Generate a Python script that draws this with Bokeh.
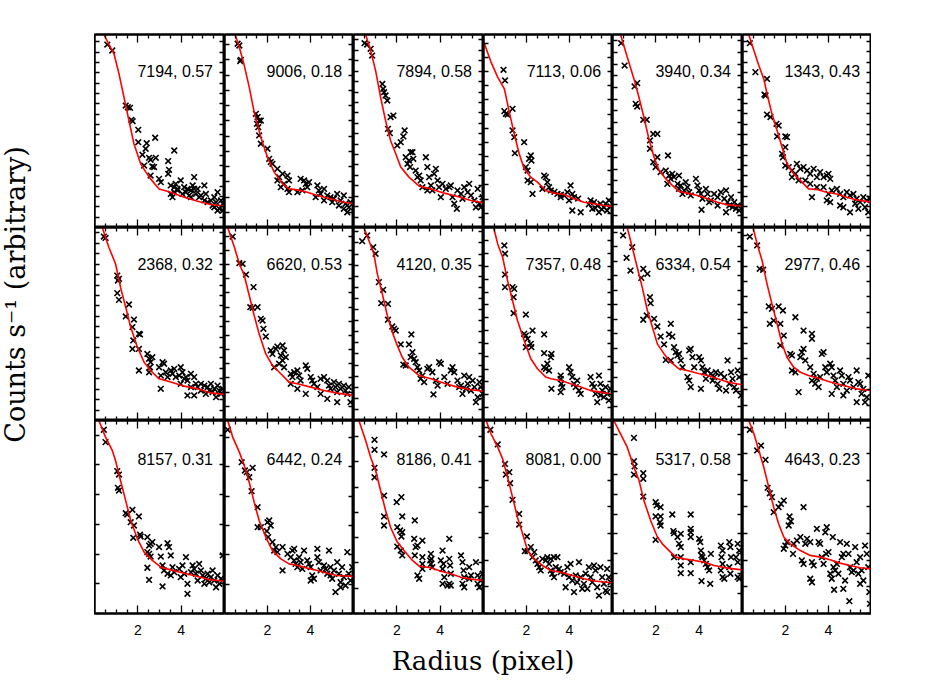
from bokeh.plotting import figure
from bokeh.layouts import row, column
from bokeh.models import Range1d, FixedTicker, LinearAxis, Label
from bokeh.embed import file_html
from bokeh.resources import INLINE

# ---------------- data (radius in pixel, counts in arbitrary units 0-100 of panel) ----------------
panel_ids = ["7194, 0.57", "9006, 0.18", "7894, 0.58", "7113, 0.06", "3940, 0.34", "1343, 0.43",
             "2368, 0.32", "6620, 0.53", "4120, 0.35", "7357, 0.48", "6334, 0.54", "2977, 0.46",
             "8157, 0.31", "6442, 0.24", "8186, 0.41", "8081, 0.00", "5317, 0.58", "4643, 0.23"]

pts_7194 = [(0.59,94.8),(0.82,91.7),(1.44,63.2),(1.54,62.3),(1.64,62.0),(1.70,55.8),(1.76,55.1),(2.02,50.6),(2.02,44.2),(2.41,43.7),(2.36,40.8),(2.80,46.5),(2.21,37.7),(2.59,35.1),(2.52,36.1),(2.83,36.1),(2.29,32.1),(2.75,31.3),(2.67,31.6),(2.59,26.9),(2.98,25.2),(3.06,23.5),(3.40,34.4),(3.44,29.9),(3.40,27.8),(3.68,39.9),(3.52,21.8),(3.68,20.9),(3.75,22.6),(3.68,18.3),(3.60,15.7),(3.83,19.2),(3.98,24.4),(4.14,20.9),(4.29,20.0),(4.22,18.3),(4.45,19.2),(4.60,26.1),(4.53,21.8),(4.76,20.0),(4.68,17.4),(5.07,21.8),(5.14,17.4),(4.91,16.6),(5.37,14.0),(5.53,15.7),(5.68,18.3),(5.61,13.1),(5.84,14.0),(5.76,9.7),(5.92,12.3),(3.83,20.0),(4.06,17.4),(4.37,16.6),(4.83,15.7),(5.22,13.1),(5.45,11.4),(5.68,8.8),(3.52,17.4),(4.45,15.7),(5.07,14.0),(5.53,10.5),(5.92,8.8),(4.60,20.0)]
fit_7194 = [(0.43,100),(0.90,90.0),(1.13,79.6),(1.36,67.5),(1.59,55.4),(1.82,43.4),(2.13,33.0),(2.52,26.1),(2.98,20.0),(3.52,18.3),(4.14,15.7),(4.76,13.6),(5.37,11.9),(6.0,11.1)]

pts_9006 = [(0.61,95.2),(0.69,94.3),(0.76,86.9),(0.73,86.2),(1.46,58.9),(1.54,57.2),(1.61,55.4),(1.51,53.7),(1.69,55.4),(1.57,52.0),(1.61,47.7),(1.69,43.4),(2.00,40.8),(2.08,35.6),(2.15,33.9),(2.23,33.0),(2.46,30.4),(2.54,26.1),(2.70,27.8),(2.93,26.9),(3.00,24.4),(2.77,22.6),(2.62,20.9),(2.93,20.0),(3.00,18.3),(2.46,24.4),(3.54,25.2),(3.70,24.4),(3.78,22.6),(3.85,20.9),(3.62,19.2),(3.39,18.3),(3.93,23.5),(4.32,21.8),(4.39,19.2),(4.47,17.4),(4.63,20.0),(4.78,16.6),(4.93,15.7),(5.09,14.9),(5.24,17.4),(5.40,14.0),(5.55,16.6),(5.63,12.3),(5.71,7.9),(5.79,10.5),(5.86,13.1),(4.24,15.7),(4.63,14.0),(5.01,13.1),(5.32,11.4),(5.55,9.7)]
fit_9006 = [(0.49,100),(0.69,93.4),(0.92,83.9),(1.15,72.7),(1.38,59.8),(1.69,46.8),(2.00,36.4),(2.31,28.7),(2.70,22.6),(3.00,20.0),(3.39,19.5),(3.85,18.3),(4.32,16.6),(4.93,14.9),(5.55,13.1),(6.0,12.4)]

pts_7894 = [(0.51,95.5),(0.63,94.8),(0.79,92.6),(0.86,89.1),(1.33,74.4),(1.41,70.1),(1.48,68.4),(1.56,65.8),(1.37,71.8),(1.71,57.2),(1.84,58.0),(1.59,51.1),(1.68,48.9),(2.02,42.5),(2.18,44.2),(2.30,47.2),(2.36,50.3),(2.41,36.4),(2.56,34.7),(2.64,39.0),(2.72,39.0),(2.49,33.0),(2.61,31.3),(2.76,35.6),(2.87,29.5),(3.03,26.9),(3.10,24.4),(2.95,26.1),(3.34,36.4),(3.41,31.3),(3.49,26.1),(3.57,21.8),(3.64,19.2),(3.72,27.8),(3.80,30.4),(3.88,24.4),(3.95,20.9),(4.03,15.7),(4.11,22.6),(4.26,20.0),(4.42,20.9),(4.49,21.8),(4.57,15.7),(4.65,12.3),(4.77,9.7),(4.80,19.2),(4.96,17.4),(5.11,20.9),(5.27,18.3),(5.34,22.6),(5.42,16.6),(5.58,14.0),(5.73,20.0),(5.81,12.3),(5.88,10.5),(5.96,15.7),(5.65,10.5),(5.03,14.9),(3.18,20.9),(3.41,19.2)]
fit_7894 = [(0.56,100),(0.79,91.7),(1.02,81.3),(1.25,67.5),(1.48,55.4),(1.71,45.1),(1.95,38.2),(2.18,31.3),(2.56,26.1),(3.03,21.4),(3.57,20.0),(4.19,17.8),(4.80,16.1),(5.42,14.0),(6.0,12.8)]

pts_7113 = [(0.93,81.7),(1.00,76.2),(0.97,60.3),(1.04,58.9),(1.12,58.5),(1.35,61.5),(1.35,50.3),(1.43,46.8),(1.46,38.5),(1.89,44.2),(1.97,31.3),(2.05,29.5),(2.12,35.6),(2.20,37.3),(2.23,34.7),(2.05,24.4),(2.28,17.4),(2.20,23.5),(2.82,26.9),(2.90,26.1),(2.97,23.5),(3.05,20.9),(3.13,19.2),(2.74,20.0),(3.44,17.4),(3.59,15.7),(3.75,16.6),(3.90,18.3),(4.05,21.8),(4.13,17.4),(4.21,15.7),(4.13,8.8),(4.52,7.9),(3.98,14.0),(4.98,14.0),(5.14,13.1),(5.29,11.4),(5.44,12.3),(5.60,10.5),(5.75,8.8),(5.83,14.0),(5.37,7.9),(5.68,12.3),(5.06,9.7),(4.90,12.0),(5.20,10.0),(5.50,9.5),(5.90,11.0),(4.40,15.0),(3.30,18.5),(3.60,17.0)]
fit_7113 = [(0.0,96.5),(0.35,85.7),(0.66,77.9),(0.97,71.8),(1.20,59.8),(1.43,48.5),(1.66,38.2),(1.89,30.4),(2.20,26.1),(2.51,23.5),(2.90,19.2),(3.28,17.8),(3.75,17.1),(4.21,14.9),(4.67,13.1),(5.14,12.3),(5.60,11.4),(6.0,10.9)]

pts_3940 = [(0.40,95.5),(0.56,83.9),(1.02,73.1),(1.14,74.8),(1.07,64.1),(1.14,62.7),(1.42,55.8),(1.58,55.8),(1.73,45.1),(1.73,40.8),(1.88,48.5),(2.07,48.5),(1.88,33.9),(1.99,31.3),(2.07,36.4),(2.56,37.3),(2.22,28.7),(2.46,29.5),(2.61,26.9),(2.69,25.2),(2.76,27.8),(2.84,26.1),(2.53,22.6),(3.07,26.9),(3.00,22.6),(3.07,20.0),(3.15,21.8),(3.23,17.4),(3.31,19.2),(3.38,23.5),(3.46,20.9),(3.54,18.3),(3.85,25.2),(3.92,21.8),(4.00,19.2),(4.08,17.4),(4.15,14.9),(4.11,9.2),(4.31,20.0),(4.39,17.4),(4.46,13.1),(4.69,17.4),(4.85,15.7),(5.00,18.3),(5.16,14.9),(5.24,19.2),(5.31,13.1),(5.39,11.4),(5.47,15.7),(5.54,10.5),(5.62,13.1),(5.70,9.7),(5.78,11.4),(5.85,8.8),(3.61,16.6),(4.54,14.0),(4.85,11.4),(5.24,7.9)]
fit_3940 = [(0.37,100),(0.68,88.3),(0.99,77.0),(1.22,67.5),(1.45,57.1),(1.68,45.9),(1.92,36.4),(2.15,29.5),(2.46,25.2),(2.76,21.8),(3.07,18.7),(3.46,17.8),(3.92,16.6),(4.39,14.9),(4.85,13.1),(5.31,11.7),(6.0,11.1)]

pts_1343 = [(0.34,95.5),(0.60,80.5),(1.14,77.0),(1.02,68.9),(1.07,68.4),(1.14,58.5),(1.30,57.2),(1.58,53.7),(1.68,52.8),(1.61,47.2),(1.99,47.2),(2.07,46.8),(1.99,41.6),(1.84,38.2),(1.88,36.4),(1.99,32.1),(2.15,31.3),(2.30,29.5),(2.46,27.8),(2.53,33.0),(2.69,30.4),(2.84,31.3),(3.00,29.5),(3.15,27.8),(3.31,30.4),(3.46,26.1),(3.61,28.7),(3.77,26.1),(3.92,26.9),(4.00,27.8),(4.08,25.2),(2.30,26.1),(2.61,24.4),(2.92,24.4),(3.15,22.6),(3.23,15.7),(3.46,20.9),(3.77,20.9),(4.00,17.4),(4.15,19.2),(4.39,20.0),(4.54,17.4),(4.69,15.7),(4.85,18.3),(5.00,16.6),(5.16,17.4),(5.31,14.9),(5.47,13.1),(5.62,15.7),(5.78,14.0),(5.93,14.9),(3.92,14.0),(4.08,13.1),(4.54,11.4),(4.69,10.5),(5.00,7.9),(5.24,12.3),(5.39,9.7),(5.70,10.5),(5.85,7.9)]
fit_1343 = [(0.29,100),(0.53,91.7),(0.76,83.9),(0.99,77.0),(1.14,69.3),(1.37,58.9),(1.61,50.3),(1.84,41.6),(2.07,33.0),(2.38,27.8),(2.69,24.4),(3.07,20.0),(3.46,19.7),(3.92,18.3),(4.39,17.4),(4.85,15.7),(5.31,14.3),(6.0,13.1)]

pts_2368 = [(0.43,95.3),(0.51,94.6),(1.05,75.1),(1.13,73.4),(1.08,72.5),(1.05,66.0),(1.13,62.5),(1.44,53.9),(1.59,60.1),(1.75,48.4),(1.82,52.3),(1.79,41.5),(1.75,37.1),(2.05,44.9),(2.10,44.6),(2.05,37.1),(2.05,25.9),(2.44,34.5),(2.52,32.0),(2.59,30.2),(2.56,27.6),(2.67,32.8),(2.52,25.0),(2.98,27.6),(3.06,23.3),(3.14,30.2),(3.21,29.4),(3.29,25.0),(3.37,22.5),(3.06,16.4),(3.52,25.9),(3.60,24.2),(3.68,26.8),(3.75,22.5),(3.91,23.3),(3.98,27.6),(4.06,25.0),(4.14,21.6),(3.98,19.0),(4.22,22.5),(4.29,20.7),(4.45,24.2),(4.60,22.5),(4.68,19.0),(4.76,17.3),(4.45,17.3),(4.29,13.0),(4.60,13.0),(4.91,19.0),(5.07,18.1),(5.22,17.3),(5.30,15.5),(5.37,19.0),(5.45,14.7),(5.53,16.4),(5.61,12.1),(5.68,18.1),(5.76,15.5),(5.84,13.8),(5.92,16.4),(5.14,13.8),(4.91,15.5)]
fit_2368 = [(0.36,100),(0.66,89.8),(0.97,81.2),(1.20,69.1),(1.44,58.7),(1.67,48.4),(1.98,38.0),(2.29,30.2),(2.59,25.9),(2.98,21.6),(3.52,19.9),(4.14,17.8),(4.76,16.4),(5.37,14.3),(6.0,13.5)]

pts_6620 = [(0.38,95.3),(0.69,81.5),(0.84,81.2),(1.00,75.6),(1.35,69.1),(1.20,58.7),(1.31,58.4),(1.54,58.7),(1.69,52.7),(1.77,51.8),(1.81,47.5),(1.92,43.5),(2.15,36.3),(2.23,34.5),(2.39,37.1),(2.46,38.3),(2.70,38.9),(2.77,36.3),(2.62,33.7),(2.70,31.1),(2.77,27.6),(2.54,29.4),(2.85,32.8),(2.31,27.6),(3.08,24.2),(3.16,22.5),(3.24,25.0),(3.39,25.9),(3.47,23.3),(3.54,20.7),(3.08,19.0),(3.39,16.4),(3.78,28.5),(3.85,26.8),(3.78,13.8),(4.01,22.5),(4.08,20.7),(4.16,19.0),(4.32,17.3),(4.47,21.6),(4.63,22.5),(4.78,20.7),(4.86,18.1),(4.93,16.4),(5.09,19.9),(5.16,17.3),(5.24,14.7),(5.32,19.0),(5.40,16.4),(5.55,18.1),(5.63,15.5),(5.71,13.8),(5.78,17.3),(5.86,9.5),(5.24,9.5),(4.78,11.2),(4.47,13.8)]
fit_6620 = [(0.15,100),(0.46,89.8),(0.69,81.2),(0.92,75.1),(1.15,64.8),(1.38,54.4),(1.61,44.9),(1.92,34.5),(2.23,28.5),(2.62,24.2),(3.00,19.9),(3.39,19.0),(4.01,17.3),(4.63,15.5),(5.24,14.2),(6.0,13.0)]

pts_4120 = [(0.40,92.9),(0.63,95.9),(0.91,89.8),(1.02,86.4),(1.17,71.7),(1.37,67.7),(1.28,60.8),(1.59,60.4),(1.59,52.2),(1.79,48.7),(1.87,47.5),(1.95,46.6),(2.18,39.4),(2.30,29.0),(2.41,28.5),(2.56,39.4),(2.67,44.6),(2.64,32.8),(2.72,35.4),(2.80,32.0),(2.87,30.2),(2.95,27.6),(3.03,25.9),(3.18,23.3),(3.26,19.9),(3.10,21.6),(3.41,26.8),(3.49,27.6),(3.64,25.0),(3.80,20.7),(3.95,30.2),(4.03,29.4),(3.88,18.1),(3.69,13.5),(4.19,22.5),(4.34,19.0),(4.49,25.9),(4.57,27.6),(4.65,25.0),(4.80,20.7),(4.88,17.3),(4.96,18.1),(5.11,23.3),(5.27,19.0),(5.34,22.5),(5.42,15.5),(5.50,20.7),(5.58,17.3),(5.65,9.5),(5.73,12.1),(5.81,19.9),(5.88,17.3),(5.96,13.8),(5.03,13.8),(5.19,16.4)]
fit_4120 = [(0.48,100),(0.71,93.3),(0.94,86.4),(1.10,76.0),(1.33,65.6),(1.56,54.4),(1.79,45.8),(2.02,38.9),(2.25,32.8),(2.56,27.6),(3.03,23.3),(3.57,21.6),(4.19,19.3),(4.80,17.3),(5.42,15.9),(6.0,15.2)]

pts_7357 = [(0.97,90.7),(1.00,86.4),(1.00,75.6),(1.00,69.1),(1.35,69.1),(1.43,68.2),(1.40,63.9),(1.40,55.6),(1.97,54.9),(1.89,44.9),(1.97,44.0),(2.05,42.3),(2.20,39.7),(2.23,38.0),(2.28,46.6),(1.97,38.0),(2.82,44.6),(2.82,34.9),(2.82,27.6),(2.90,26.8),(2.97,29.4),(3.05,25.9),(3.13,32.8),(3.16,34.5),(3.16,16.4),(3.59,23.3),(3.59,21.6),(3.62,19.0),(3.59,14.7),(3.67,17.3),(3.98,27.6),(4.05,25.0),(4.13,22.5),(4.21,19.0),(4.29,17.3),(4.36,20.7),(4.44,15.5),(4.52,13.8),(4.98,22.5),(5.06,19.0),(5.14,17.3),(5.21,13.8),(5.29,9.5),(5.37,23.3),(5.44,19.0),(5.52,15.5),(5.60,12.1),(5.68,17.3),(5.75,13.8),(5.83,10.4),(5.91,16.4),(5.44,13.0)]
fit_7357 = [(0.47,100),(0.66,91.5),(0.89,84.6),(1.12,72.5),(1.35,62.2),(1.58,51.8),(1.89,41.5),(2.20,32.0),(2.51,26.8),(2.90,22.5),(3.13,21.6),(3.59,20.7),(4.05,19.0),(4.52,17.3),(4.98,15.5),(5.44,14.7),(6.0,13.5)]

pts_6334 = [(0.49,95.9),(0.65,84.3),(0.83,77.7),(0.91,89.8),(1.33,73.9),(1.42,78.6),(1.61,76.0),(1.73,63.9),(1.76,60.8),(1.42,52.2),(1.58,54.4),(1.92,52.7),(2.07,48.7),(2.22,43.5),(2.61,44.6),(2.69,50.1),(2.76,43.5),(2.38,39.4),(2.84,38.0),(2.46,31.4),(2.69,31.1),(2.92,35.4),(3.00,33.7),(3.07,34.5),(3.15,31.1),(3.23,27.6),(3.46,22.5),(3.54,36.3),(3.61,37.1),(3.69,32.8),(3.77,27.6),(3.54,20.7),(3.61,17.3),(4.00,32.8),(4.08,31.1),(4.15,27.6),(4.23,25.0),(4.31,21.6),(4.08,16.4),(4.39,25.9),(4.54,24.2),(4.62,20.7),(4.69,22.5),(4.77,25.0),(4.85,19.0),(4.93,16.4),(5.00,24.2),(5.16,22.5),(5.31,31.1),(5.39,19.0),(5.47,25.0),(5.54,21.6),(5.62,17.3),(5.70,15.5),(5.78,25.9),(5.85,22.5),(5.93,13.0),(5.24,15.5)]
fit_6334 = [(0.68,100),(0.91,89.8),(1.14,79.4),(1.37,69.1),(1.61,57.0),(1.84,48.4),(2.07,39.7),(2.38,34.5),(2.69,30.2),(3.07,26.8),(3.54,25.6),(4.00,24.2),(4.39,23.3),(4.85,21.6),(5.31,19.9),(6.0,18.5)]

pts_2977 = [(0.34,95.3),(0.68,90.7),(0.80,78.6),(0.96,78.1),(1.22,59.1),(1.37,57.9),(1.27,50.1),(1.45,51.8),(1.68,59.1),(1.88,57.0),(1.76,50.1),(1.92,44.0),(1.76,38.9),(2.46,53.5),(2.22,34.5),(2.30,33.7),(2.30,25.9),(2.46,25.0),(2.69,32.8),(2.76,35.4),(2.84,37.1),(2.84,46.6),(3.23,44.9),(3.23,42.3),(2.92,31.1),(3.15,27.6),(3.23,20.7),(3.31,24.2),(3.38,19.0),(3.46,21.6),(3.61,22.5),(3.69,34.5),(3.77,35.4),(3.85,27.6),(3.92,25.0),(4.08,29.4),(4.15,27.6),(4.23,23.3),(4.31,20.7),(4.39,17.3),(4.54,25.9),(4.62,23.3),(4.69,19.0),(4.85,15.5),(4.93,22.5),(5.00,20.7),(5.31,25.9),(5.16,17.3),(5.39,19.9),(5.47,19.0),(5.54,13.8),(5.62,16.4),(5.70,9.5),(5.78,12.1),(5.85,23.3),(2.61,14.7),(3.54,17.3),(4.15,13.8),(4.69,13.0),(5.31,9.5)]
fit_2977 = [(0.49,100),(0.68,91.5),(0.91,82.9),(1.14,70.8),(1.37,60.4),(1.61,50.1),(1.84,39.7),(2.07,32.8),(2.38,27.6),(2.69,25.0),(3.07,23.3),(3.61,21.6),(4.08,19.9),(4.69,18.1),(5.31,16.4),(6.0,15.5)]

pts_8157 = [(0.43,95.2),(0.51,88.8),(1.05,73.8),(1.13,72.0),(1.08,65.1),(1.13,63.7),(1.44,52.0),(1.51,51.3),(1.75,53.7),(1.67,47.3),(1.82,45.6),(1.79,39.2),(2.05,50.3),(2.10,40.9),(2.13,39.9),(2.44,39.6),(2.52,35.2),(2.59,36.1),(2.67,37.0),(2.44,31.8),(2.52,30.9),(2.59,29.5),(2.98,34.4),(3.06,29.5),(3.37,36.4),(3.44,34.4),(3.52,30.1),(2.44,23.7),(2.52,17.4),(3.14,14.0),(3.14,24.9),(3.21,22.3),(3.37,20.6),(3.52,19.7),(3.60,24.0),(3.68,21.4),(3.91,23.1),(3.98,18.8),(4.06,24.9),(4.22,29.2),(4.14,20.6),(4.29,15.4),(4.29,10.2),(4.45,21.4),(4.53,24.9),(4.60,23.1),(4.68,20.6),(4.76,17.1),(4.83,25.7),(4.91,22.3),(4.99,19.7),(5.07,15.4),(5.14,18.0),(5.22,20.6),(5.30,16.2),(5.37,18.8),(5.45,22.3),(5.53,17.1),(5.61,13.6),(5.68,19.7),(5.76,15.4),(5.84,18.0),(5.92,30.1)]
fit_8157 = [(0.20,100),(0.51,91.4),(0.82,84.5),(0.97,79.3),(1.20,68.9),(1.44,58.5),(1.67,48.2),(1.98,38.7),(2.29,31.8),(2.67,27.5),(3.06,24.0),(3.52,22.6),(4.14,20.9),(4.76,19.2),(5.37,17.4),(6.0,16.8)]

pts_6442 = [(0.15,95.2),(0.80,78.4),(0.95,74.1),(1.04,73.2),(1.15,70.6),(1.31,75.5),(1.26,63.4),(1.54,55.1),(1.54,44.7),(1.69,44.7),(2.00,47.3),(2.08,48.2),(2.15,45.6),(2.03,39.6),(1.97,42.7),(2.23,37.0),(2.31,32.6),(2.39,34.4),(2.46,31.8),(2.70,34.4),(2.70,22.3),(2.93,30.9),(3.08,29.2),(3.16,32.6),(3.24,33.5),(3.24,27.5),(3.31,25.7),(3.39,24.0),(3.47,29.2),(3.54,26.6),(3.62,23.1),(3.70,32.6),(3.85,27.5),(3.93,25.7),(4.01,24.0),(4.01,17.1),(4.08,19.7),(4.16,18.0),(4.32,33.5),(4.32,29.2),(4.39,26.6),(4.47,22.3),(4.63,24.9),(4.70,23.1),(4.78,20.6),(4.86,32.6),(4.93,24.0),(5.01,18.0),(5.09,22.3),(5.16,11.1),(5.24,26.6),(5.32,20.6),(5.40,16.2),(5.47,24.0),(5.55,18.8),(5.63,14.5),(5.71,31.8),(5.78,20.6),(5.86,17.1),(5.94,24.0),(5.40,13.6),(4.93,19.7)]
fit_6442 = [(0.15,100),(0.38,91.4),(0.69,83.6),(0.92,76.7),(1.15,68.0),(1.38,57.7),(1.61,48.2),(1.92,39.6),(2.23,32.6),(2.62,28.3),(3.00,25.7),(3.39,24.9),(3.85,23.5),(4.32,22.3),(4.78,20.9),(5.24,19.7),(6.0,19.2)]

pts_8186 = [(0.97,90.0),(0.97,84.8),(1.41,82.4),(0.97,75.5),(0.97,70.6),(1.41,61.1),(1.41,50.3),(1.41,45.6),(1.99,57.7),(2.21,60.3),(2.25,50.3),(2.02,44.7),(2.15,43.0),(2.25,42.1),(2.21,39.9),(2.02,34.7),(2.18,32.6),(2.25,30.1),(2.83,48.2),(2.80,38.7),(2.87,34.4),(2.95,35.2),(3.18,37.8),(2.83,30.1),(2.95,19.7),(3.03,18.0),(3.18,29.2),(3.18,25.7),(3.18,23.1),(3.57,30.9),(3.60,28.3),(3.57,25.7),(3.64,24.0),(3.54,27.5),(4.03,27.5),(4.11,32.6),(4.15,25.7),(4.11,23.1),(4.19,18.8),(4.11,15.4),(4.42,38.7),(4.42,28.3),(4.46,24.9),(4.49,20.6),(4.42,15.4),(4.49,14.5),(4.34,14.5),(4.96,30.1),(5.03,26.6),(5.08,22.3),(5.11,18.8),(5.03,15.4),(5.11,13.6),(5.34,24.0),(5.34,18.0),(5.42,19.7),(5.65,26.6),(5.73,19.7),(5.73,15.4),(5.81,13.6),(5.88,17.1),(5.96,20.6)]
fit_8186 = [(0.25,100),(0.56,89.6),(0.79,81.0),(1.02,74.1),(1.25,63.7),(1.48,53.4),(1.71,44.7),(2.02,37.0),(2.33,32.6),(2.72,27.5),(3.03,24.5),(3.57,23.7),(4.03,21.9),(4.49,20.6),(4.96,18.8),(5.42,17.8),(6.0,17.1)]

pts_8081 = [(0.32,95.2),(0.66,87.6),(1.00,77.5),(1.04,72.0),(1.20,73.2),(1.24,67.5),(1.35,58.9),(1.66,51.6),(1.66,46.1),(2.02,39.9),(1.92,32.3),(2.05,32.3),(2.20,34.4),(2.28,29.2),(2.36,31.8),(2.43,27.5),(2.51,25.7),(2.59,24.0),(2.66,22.3),(2.74,28.3),(2.90,27.5),(2.97,29.2),(3.05,25.7),(3.13,28.3),(3.28,29.2),(3.44,29.2),(3.13,22.3),(3.20,20.6),(3.28,18.8),(3.36,24.0),(3.51,23.1),(3.59,21.4),(3.75,20.6),(3.82,13.6),(3.90,24.0),(3.98,18.8),(4.05,25.7),(4.13,17.1),(4.21,11.1),(4.29,19.7),(4.36,16.2),(4.44,26.6),(4.52,18.8),(4.59,12.8),(4.67,15.4),(4.75,20.6),(4.83,12.8),(4.90,24.0),(4.98,18.8),(5.06,16.2),(5.14,24.9),(5.21,22.3),(5.29,13.6),(5.37,9.3),(5.44,24.0),(5.52,18.8),(5.60,15.4),(5.68,11.9),(5.75,23.1),(5.83,18.8),(5.91,16.2),(5.75,11.1)]
fit_8081 = [(0.12,100),(0.35,93.1),(0.66,86.2),(0.89,80.1),(1.12,70.6),(1.35,60.3),(1.58,49.9),(1.82,41.3),(2.05,32.6),(2.36,28.3),(2.74,24.9),(3.13,22.3),(3.59,21.4),(4.05,20.0),(4.67,18.0),(5.14,16.8),(6.0,15.9)]

pts_5317 = [(0.99,91.0),(0.99,78.9),(1.02,76.2),(0.99,72.0),(1.42,72.7),(1.42,69.8),(1.42,60.6),(1.99,57.7),(2.04,56.0),(2.22,55.1),(1.99,50.3),(2.22,50.3),(2.19,47.3),(2.22,45.6),(1.99,38.2),(2.76,51.3),(2.81,42.7),(2.84,41.6),(3.00,39.6),(3.15,41.3),(3.07,36.1),(3.15,34.4),(2.84,29.2),(3.15,29.2),(3.15,24.9),(3.15,20.9),(3.61,51.3),(3.61,43.9),(3.61,42.1),(3.61,39.6),(3.61,26.6),(3.61,20.9),(4.00,38.7),(4.05,37.0),(4.08,32.6),(4.11,30.1),(4.15,29.2),(4.23,27.5),(4.31,25.7),(4.39,24.0),(4.54,30.9),(4.46,22.3),(4.11,16.8),(4.51,15.4),(5.00,35.2),(5.08,32.6),(5.03,29.2),(5.08,25.7),(5.00,22.3),(5.08,18.8),(5.16,18.0),(5.39,37.0),(5.44,34.4),(5.47,29.2),(5.39,24.0),(5.44,20.6),(5.78,36.1),(5.85,32.6),(5.70,29.2),(5.78,26.6),(5.78,18.8),(5.85,18.0)]
fit_5317 = [(0.06,100),(0.37,93.1),(0.68,86.2),(0.99,75.8),(1.22,69.1),(1.45,58.5),(1.76,48.2),(2.07,39.6),(2.30,36.1),(2.61,32.6),(2.92,29.2),(3.31,28.3),(3.77,27.5),(4.23,26.6),(4.69,24.9),(5.31,23.5),(6.0,22.6)]

pts_4643 = [(0.34,95.2),(0.68,84.5),(0.86,87.0),(1.07,79.6),(1.17,65.1),(1.27,62.3),(1.37,60.3),(1.45,52.5),(1.68,55.1),(1.79,56.8),(1.92,58.5),(2.19,50.3),(2.25,47.8),(2.15,45.6),(2.84,55.1),(1.92,33.5),(1.99,35.2),(2.07,37.0),(2.35,30.9),(2.38,36.1),(2.53,37.8),(2.69,39.6),(2.76,27.5),(2.84,25.7),(2.92,36.1),(3.00,38.7),(3.15,37.0),(3.23,26.6),(3.15,18.0),(3.31,24.9),(3.23,16.2),(3.46,43.9),(3.54,37.0),(3.61,36.1),(3.69,29.2),(3.77,25.7),(3.85,42.1),(3.92,44.7),(3.89,30.9),(4.00,31.8),(4.08,20.6),(4.15,18.0),(4.20,39.6),(4.23,24.0),(4.31,22.3),(4.39,25.7),(4.46,20.6),(4.54,37.0),(4.62,29.2),(4.69,30.9),(4.77,17.1),(4.85,36.1),(4.93,30.9),(5.00,24.0),(5.08,21.4),(5.16,22.3),(5.24,34.4),(5.31,26.6),(5.39,20.6),(5.47,29.2),(5.54,22.3),(5.62,17.1),(5.70,35.2),(5.78,30.9),(5.85,24.0),(5.90,11.1),(5.93,5.0),(4.26,12.3),(4.69,12.8),(4.97,6.4),(5.47,15.4)]
fit_4643 = [(0.29,100),(0.53,93.1),(0.76,84.5),(0.99,75.8),(1.22,65.5),(1.45,55.1),(1.68,46.5),(1.92,39.6),(2.22,36.1),(2.69,32.6),(3.15,30.1),(3.61,29.2),(4.08,27.8),(4.54,26.1),(5.00,24.9),(5.47,23.7),(6.0,23.1)]

panel_pts = [pts_7194, pts_9006, pts_7894, pts_7113, pts_3940, pts_1343,
             pts_2368, pts_6620, pts_4120, pts_7357, pts_6334, pts_2977,
             pts_8157, pts_6442, pts_8186, pts_8081, pts_5317, pts_4643]
panel_fit = [fit_7194, fit_9006, fit_7894, fit_7113, fit_3940, fit_1343,
             fit_2368, fit_6620, fit_4120, fit_7357, fit_6334, fit_2977,
             fit_8157, fit_6442, fit_8186, fit_8081, fit_5317, fit_4643]

# counts-axis tick spacing of every panel (arbitrary units)
y_tick_step = [5.34, 7.9, 5.4, 7.35, 6.05, 5.35,
               5.4, 7.35, 5.75, 6.65, 7.5, 8.0,
               15.4, 15.2, 13.1, 13.8, 10.3, 13.8]

x_major_ticks = [2, 4]
x_minor_ticks = [0.5, 1, 1.5, 2.5, 3, 3.5, 4.5, 5, 5.5]

# ---------------- layout parameters ----------------
col_w = [130, 129, 130, 129, 130, 129]
frame_h = 193
pad_top = 34
pad_bottom = 30
ylab_w = 94
xlab_h = 34


def style_axis(ax, major_in, minor_in, show_labels=False):
    ax.axis_line_color = "black"
    ax.axis_line_width = 2
    ax.major_tick_line_color = "black"
    ax.major_tick_line_width = 1.3
    ax.minor_tick_line_color = "black"
    ax.minor_tick_line_width = 1.3
    ax.major_tick_in = major_in
    ax.major_tick_out = 0
    ax.minor_tick_in = minor_in
    ax.minor_tick_out = 0
    ax.axis_label = None
    if show_labels:
        ax.major_label_text_font = "Liberation Sans"
        ax.major_label_text_font_size = "14px"
        ax.major_label_text_color = "black"
        ax.major_label_standoff = 11
    else:
        ax.major_label_text_font_size = "0px"
        ax.major_label_text_color = None
        ax.major_label_standoff = 0


def make_panel(i):
    r, c = divmod(i, 6)
    top = pad_top if r == 0 else 0
    bottom = pad_bottom if r == 2 else 0
    p = figure(width=col_w[c], height=frame_h + top + bottom,
               x_range=Range1d(0, 6), y_range=Range1d(0, 100),
               output_backend="svg", toolbar_location=None)
    p.min_border = 0
    p.min_border_left = 0
    p.min_border_right = 0
    p.min_border_top = top
    p.min_border_bottom = bottom
    p.grid.visible = False
    p.outline_line_color = "black"
    p.outline_line_width = 2
    p.background_fill_color = "white"
    p.border_fill_color = "white"

    step = y_tick_step[i]
    yt = FixedTicker(ticks=[k * step for k in range(int(100 / step) + 1)], minor_ticks=[])
    xt = FixedTicker(ticks=x_major_ticks, minor_ticks=x_minor_ticks)

    xb = p.below[0]
    yl = p.left[0]
    xb.ticker = xt
    yl.ticker = yt
    xa = LinearAxis(ticker=xt)
    yr = LinearAxis(ticker=yt)
    p.add_layout(xa, "above")
    p.add_layout(yr, "right")
    style_axis(xb, 8, 4, show_labels=(r == 2))
    style_axis(xa, 8, 4)
    style_axis(yl, 5, 0)
    style_axis(yr, 5, 0)

    pts = panel_pts[i]
    fit = panel_fit[i]
    p.scatter(x=[q[0] for q in pts], y=[q[1] for q in pts], marker="x", size=8,
              line_color="black", line_width=1.6)
    p.line(x=[q[0] for q in fit], y=[q[1] for q in fit], line_color="#ff0000", line_width=1.6)

    p.add_layout(Label(x=5.47, y=(81 if r < 2 else 80), text=panel_ids[i],
                       text_align="right", text_baseline="middle",
                       text_font="Liberation Sans", text_font_size="16px",
                       text_color="black"))
    return p


panels = [make_panel(i) for i in range(18)]
grid_w = sum(col_w)
total_h = (frame_h + pad_top) + frame_h + (frame_h + pad_bottom) + xlab_h

ylab = figure(width=ylab_w, height=total_h, x_range=Range1d(0, 1), y_range=Range1d(0, 1),
              x_axis_type=None, y_axis_type=None, output_backend="svg", toolbar_location=None)
ylab.min_border = 0
ylab.outline_line_color = None
ylab.add_layout(Label(x=15 / ylab_w, y=1 - 294 / total_h, text="Counts s\u207b\u00b9 (arbitrary)",
                      angle=90, angle_units="deg", text_align="center", text_baseline="middle",
                      text_font="DejaVu Serif", text_font_size="27px", text_color="black"))

xlab = figure(width=grid_w, height=xlab_h, x_range=Range1d(0, 1), y_range=Range1d(0, 1),
              x_axis_type=None, y_axis_type=None, output_backend="svg", toolbar_location=None)
xlab.min_border = 0
xlab.outline_line_color = None
xlab.add_layout(Label(x=0.5, y=0.5, text="Radius (pixel)", text_align="center",
                      text_baseline="middle", text_font="DejaVu Serif",
                      text_font_size="26px", text_color="black"))

layout = row(ylab, column(row(*panels[0:6]), row(*panels[6:12]), row(*panels[12:18]), xlab))

open("out.html", "w").write(file_html(layout, INLINE))
